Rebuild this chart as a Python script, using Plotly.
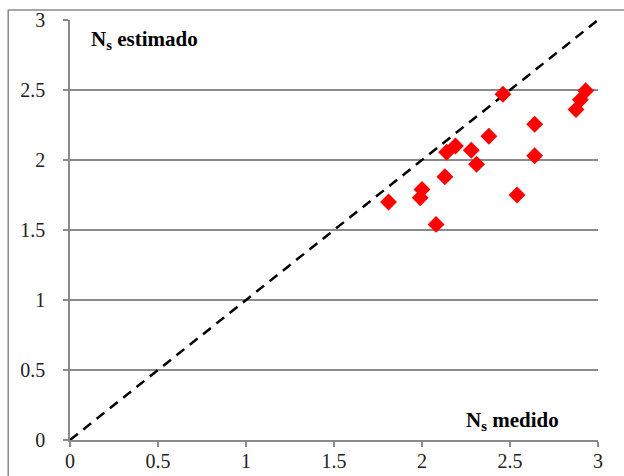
import plotly.graph_objects as go

# Measured vs estimated N_s
ns_medido = [1.81, 1.99, 2.00, 2.08, 2.13, 2.14, 2.19, 2.28, 2.31, 2.38,
             2.46, 2.54, 2.64, 2.64, 2.875, 2.90, 2.93]
ns_estimado = [1.70, 1.73, 1.79, 1.54, 1.88, 2.055, 2.10, 2.07, 1.97, 2.17,
               2.47, 1.75, 2.255, 2.03, 2.36, 2.43, 2.495]

# 1:1 reference line
ref_x = [0, 3]
ref_y = [0, 3]

tick_vals = [0, 0.5, 1, 1.5, 2, 2.5, 3]
tick_text = ["0", "0.5", "1", "1.5", "2", "2.5", "3"]

GRID = "#8a8a8a"
FONT = "Liberation Serif"

fig = go.Figure()

fig.add_trace(go.Scatter(
    x=ref_x, y=ref_y, mode="lines",
    line=dict(color="black", width=2.5, dash="10px,7px"),
    hoverinfo="skip", showlegend=False,
))

fig.add_trace(go.Scatter(
    x=ns_medido, y=ns_estimado, mode="markers",
    marker=dict(symbol="diamond", size=13, color="#ff0000", line=dict(width=0)),
    showlegend=False,
))

fig.update_layout(
    width=624, height=476,
    margin=dict(l=70, r=26, t=20, b=36),
    paper_bgcolor="white", plot_bgcolor="white",
    font=dict(family=FONT, size=20, color="#222222"),
    xaxis=dict(
        range=[0, 3], tickvals=tick_vals, ticktext=tick_text,
        showgrid=False, zeroline=False,
        showline=True, linecolor=GRID, linewidth=1.5,
        ticks="outside", ticklen=5, tickcolor=GRID, tickwidth=1.5,
        ticklabelstandoff=-3,
        tickfont=dict(family=FONT, size=20, color="#222222"),
        automargin=False, fixedrange=True,
    ),
    yaxis=dict(
        range=[0, 3], tickvals=tick_vals, ticktext=tick_text,
        showgrid=True, gridcolor=GRID, gridwidth=1.5,
        zeroline=False,
        showline=True, linecolor=GRID, linewidth=1.5,
        ticks="outside", ticklen=5, tickcolor=GRID, tickwidth=1.5,
        ticklabelstandoff=14,
        tickfont=dict(family=FONT, size=20, color="#222222"),
        automargin=False, fixedrange=True,
    ),
    annotations=[
        dict(text="<b>N<sub>s</sub> estimado</b>", xref="paper", yref="paper",
             x=0.036, y=0.952, xanchor="left", yanchor="middle",
             showarrow=False, font=dict(family=FONT, size=21, color="black")),
        dict(text="<b>N<sub>s</sub> medido</b>", xref="paper", yref="paper",
             x=0.93, y=0.045, xanchor="right", yanchor="middle",
             showarrow=False, font=dict(family=FONT, size=21, color="black")),
    ],
    shapes=[
        dict(type="rect", xref="paper", yref="paper",
             x0=-0.117, y0=-0.3, x1=1.2, y1=1.024,
             line=dict(color=GRID, width=1.5), layer="below"),
    ],
)

fig.write_html("out.html")
